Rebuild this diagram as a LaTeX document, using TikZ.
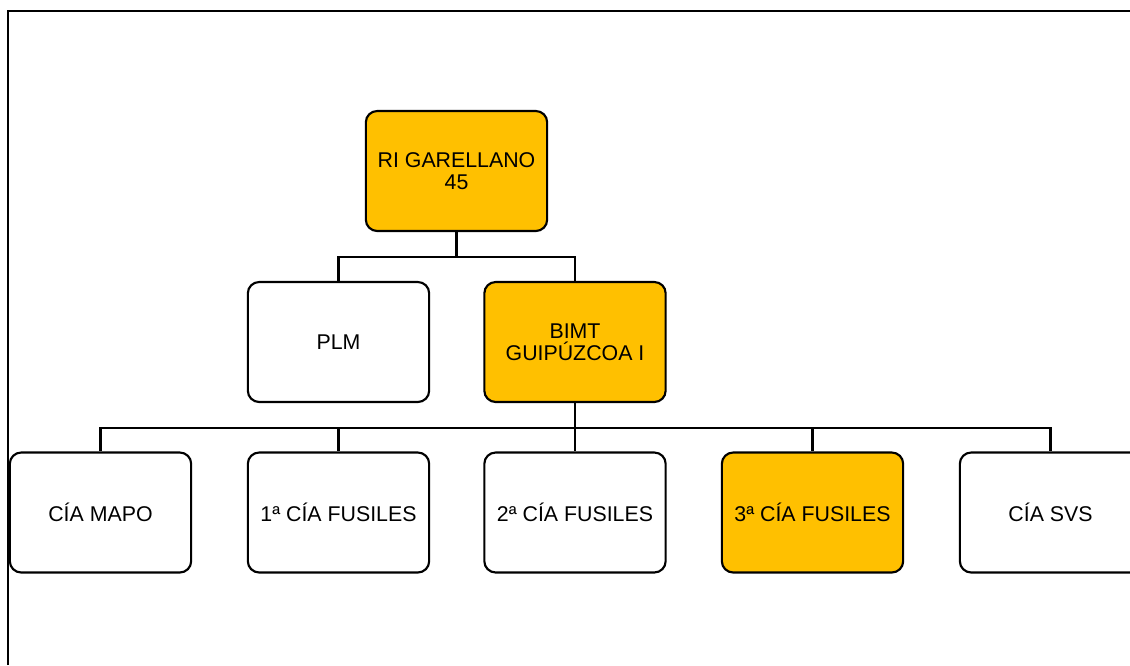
\documentclass[tikz,border=0pt]{standalone}
\usepackage{fontspec}
\setmainfont{Liberation Sans}
\usetikzlibrary{positioning,calc}

\definecolor{unitgold}{HTML}{FFC000}

\begin{document}
\begin{tikzpicture}[
    x=0.75pt,y=-0.75pt,
    unit/.style={rectangle,draw,line width=1.6pt,minimum width=136pt,minimum height=90pt,inner sep=2pt,align=center,rounded corners=8.5pt,font=\fontsize{16}{16.5}\selectfont},
    lead/.style={unit,fill=unitgold},
    link/.style={line width=1.6pt}
]
    \useasboundingbox (0,0) rectangle (1130,665);
    % sheet frame
    \draw[line width=1.1pt] (8,665) -- (8,11) -- (1130,11);

    \node[lead] (ri) at (456.5,171) {RI GARELLANO\\45};
    \node[unit] (plm) at (338.5,342) {PLM};
    \node[lead] (bimt) at (575,342) {BIMT\\GUIPÚZCOA I};

    \node[unit] (mapo) at (100.5,512.5) {CÍA MAPO};
    \node[unit] (fus1) at (338.5,512.5) {1ª CÍA FUSILES};
    \node[unit] (fus2) at (575,512.5) {2ª CÍA FUSILES};
    \node[lead] (fus3) at (812.5,512.5) {3ª CÍA FUSILES};
    \node[unit] (svs) at (1050.5,512.5) {CÍA SVS};

    \draw[link] (ri.south) -- ++(0,25) -| (plm.north);
    \draw[link] (ri.south) -- ++(0,25) -| (bimt.north);
    \foreach \n in {mapo,fus1,fus2,fus3,svs}
        \draw[link] (bimt.south) -- ++(0,25) -| (\n.north);
\end{tikzpicture}
\end{document}
